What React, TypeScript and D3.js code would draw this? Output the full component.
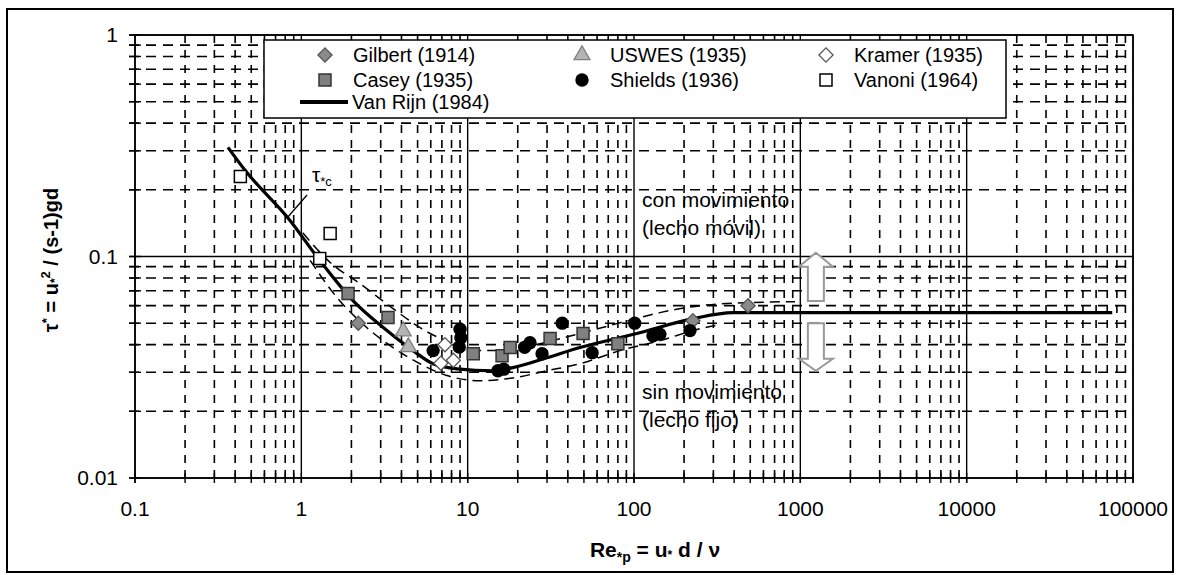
import React from "react";
import * as d3 from "d3";

// Van Rijn (1984) threshold curve
const vanRijnRe = [0.362, 0.459, 0.855, 1.29, 2.05, 3.27, 4.69, 6.19, 8.63, 14.2, 18.7, 30, 47.3, 104, 226, 394, 75000];
const vanRijnTau = [0.311, 0.245, 0.1455, 0.096, 0.063, 0.0463, 0.0376, 0.0328, 0.0311, 0.0305, 0.0315, 0.0349, 0.0388, 0.0449, 0.0524, 0.0558, 0.0558];

// dashed scatter band
const upperRe = [1.02, 1.49, 2.25, 3.56, 5.17, 7.3, 10.3, 15.6, 27.2, 47.3, 82.4, 143, 250, 478, 929];
const upperTau = [0.128, 0.094, 0.0755, 0.0582, 0.0477, 0.0417, 0.0376, 0.0376, 0.0404, 0.0449, 0.0502, 0.0558, 0.06, 0.0619, 0.0625];
const lowerRe = [1.13, 1.64, 2.48, 3.56, 5.17, 7.5, 11.9, 18.7, 30, 47.3, 82.4, 143, 250, 329];
const lowerTau = [0.096, 0.0652, 0.0477, 0.0388, 0.0328, 0.029, 0.0275, 0.0283, 0.0305, 0.0328, 0.0376, 0.0417, 0.0472, 0.0492];

// experimental data
const gilbertRe = [2.2, 226, 485];
const gilbertTau = [0.05, 0.0513, 0.06];
const uswesRe = [4.1, 4.4];
const uswesTau = [0.046, 0.039];
const kramerRe = [7.3, 6.9, 8.2];
const kramerTau = [0.04, 0.033, 0.034];
const caseyRe = [1.91, 3.32, 10.8, 16.1, 18, 31.3, 49.4, 80];
const caseyTau = [0.068, 0.053, 0.0364, 0.0356, 0.0388, 0.0426, 0.0449, 0.0404];
const shieldsRe = [6.2, 8.9, 9.0, 9.1, 15.2, 16.5, 22, 23.7, 28, 37, 56, 101, 130, 143, 217];
const shieldsTau = [0.0376, 0.039, 0.047, 0.043, 0.0305, 0.031, 0.0389, 0.0408, 0.0364, 0.05, 0.0368, 0.05, 0.0439, 0.0446, 0.0463];
const vanoniRe = [0.43, 1.49, 1.29];
const vanoniTau = [0.23, 0.127, 0.098];

// arrows (Re position, tau values: tail, head base, tip)
const arrowRe = 1240;
const arrowUpTau = [0.063, 0.09, 0.104];
const arrowDownTau = [0.05, 0.0345, 0.0305];

const W = 1179;
const H = 575;
const FONT = "'Liberation Sans', Arial, sans-serif";

const x = d3.scaleLog().domain([0.1, 100000]).range([135, 1133]);
const y = d3.scaleLog().domain([0.01, 1]).range([478, 35]);

const isMajor = (v: number) => Math.abs(Math.log10(v) - Math.round(Math.log10(v))) < 1e-9;
const zip = (a: number[], b: number[]) => a.map((v, i) => [v, b[i]] as [number, number]);

const line = d3
  .line<[number, number]>()
  .x((d) => x(d[0]))
  .y((d) => y(d[1]))
  .curve(d3.curveMonotoneX);

const sq = d3.symbol().type(d3.symbolSquare);
const tri = d3.symbol().type(d3.symbolTriangle).size(110)();
const circ = d3.symbol().type(d3.symbolCircle).size(140)();

type Style = { kind: string; fill: string; stroke: string };
const styles: Record<string, Style> = {
  gilbert: { kind: "diamond", fill: "#8a8a8a", stroke: "#555" },
  uswes: { kind: "triangle", fill: "#b4b4b4", stroke: "#808080" },
  kramer: { kind: "diamond", fill: "#fff", stroke: "#555" },
  casey: { kind: "square", fill: "#808080", stroke: "#333" },
  shields: { kind: "circle", fill: "#000", stroke: "#000" },
  vanoni: { kind: "square", fill: "#fff", stroke: "#000" },
};

function Marker({ cx, cy, s }: { cx: number; cy: number; s: Style }) {
  if (s.kind === "diamond")
    return (
      <path d={sq.size(100)()!} transform={`translate(${cx},${cy}) rotate(45)`} fill={s.fill} stroke={s.stroke} strokeWidth={1.3} />
    );
  if (s.kind === "square")
    return <path d={sq.size(144)()!} transform={`translate(${cx},${cy})`} fill={s.fill} stroke={s.stroke} strokeWidth={1.5} />;
  if (s.kind === "triangle")
    return <path d={tri!} transform={`translate(${cx},${cy})`} fill={s.fill} stroke={s.stroke} strokeWidth={1.3} />;
  return <path d={circ!} transform={`translate(${cx},${cy})`} fill={s.fill} />;
}

function arrowPath(cx: number, tail: number, base: number, tip: number) {
  const sw = 8;
  const hw = 17;
  return `M${cx - sw},${tail} L${cx - sw},${base} L${cx - hw},${base} L${cx},${tip} L${cx + hw},${base} L${cx + sw},${base} L${cx + sw},${tail} Z`;
}

export default function App() {
  const xTicks = x.ticks();
  const yTicks = y.ticks();
  const [x0, x1] = x.range();
  const [y0, y1] = y.range();

  const series: [string, number[], number[]][] = [
    ["gilbert", gilbertRe, gilbertTau],
    ["uswes", uswesRe, uswesTau],
    ["kramer", kramerRe, kramerTau],
    ["casey", caseyRe, caseyTau],
    ["shields", shieldsRe, shieldsTau],
    ["vanoni", vanoniRe, vanoniTau],
  ];

  const legendCols = [325, 582, 826];
  const legendRows = [55, 80, 102];
  const legend = [
    ["gilbert", "Gilbert (1914)", 0, 0],
    ["uswes", "USWES (1935)", 1, 0],
    ["kramer", "Kramer (1935)", 2, 0],
    ["casey", "Casey (1935)", 0, 1],
    ["shields", "Shields (1936)", 1, 1],
    ["vanoni", "Vanoni (1964)", 2, 1],
  ] as [string, string, number, number][];

  const ax = x(arrowRe);

  return (
    <div style={{ position: "fixed", left: 0, top: 0 }}>
      <svg width={W} height={H} style={{ display: "block", background: "#fff" }} fontFamily={FONT}>
        <rect x={7} y={9} width={1166} height={563} fill="#fff" stroke="#000" strokeWidth={2} />

        {/* grid */}
        {xTicks.map((v, i) => (
          <line
            key={"gx" + i}
            x1={x(v)}
            x2={x(v)}
            y1={y1}
            y2={y0 + 5}
            stroke="#000"
            strokeWidth={isMajor(v) ? 1.4 : 1.6}
            strokeDasharray={isMajor(v) ? undefined : "8,7"}
          />
        ))}
        {yTicks.map((v, i) => (
          <line
            key={"gy" + i}
            x1={x0 - 6}
            x2={x1}
            y1={y(v)}
            y2={y(v)}
            stroke="#000"
            strokeWidth={isMajor(v) ? 1.4 : 1.6}
            strokeDasharray={isMajor(v) ? undefined : "10,7"}
          />
        ))}
        {/* ticks across the axes */}
        {xTicks.map((v, i) => (
          <line key={"tx" + i} x1={x(v)} x2={x(v)} y1={y0 - 5} y2={y0 + 5} stroke="#000" strokeWidth={1.4} />
        ))}
        {yTicks.map((v, i) => (
          <line key={"ty" + i} x1={x0 - 6} x2={x0 + 6} y1={y(v)} y2={y(v)} stroke="#000" strokeWidth={1.4} />
        ))}
        <rect x={x0} y={y1} width={x1 - x0} height={y0 - y1} fill="none" stroke="#000" strokeWidth={1.6} />

        {/* tick labels */}
        {xTicks.filter(isMajor).map((v, i) => (
          <text key={"lx" + i} x={x(v)} y={516} textAnchor="middle" fontSize={21} fill="#000">
            {String(v)}
          </text>
        ))}
        {yTicks.filter(isMajor).map((v, i) => (
          <text key={"ly" + i} x={118} y={y(v)} dy="0.35em" textAnchor="end" fontSize={21} fill="#000">
            {String(v)}
          </text>
        ))}

        {/* axis titles */}
        <text x={655} y={557} textAnchor="middle" fontSize={21} fontWeight="bold" fill="#000">
          Re<tspan fontSize={14} dy={5}>*p</tspan>
          <tspan dy={-5}> = u</tspan>
          <tspan fontSize={12} dy={2}>*</tspan>
          <tspan dy={-2}> d / ν</tspan>
        </text>
        <text transform="translate(58,260) rotate(-90)" textAnchor="middle" fontSize={20} fontWeight="bold" fill="#000">
          τ<tspan fontSize={13} dy={-7}>*</tspan>
          <tspan dy={7}> = u</tspan>
          <tspan fontSize={12} dy={1}>*</tspan>
          <tspan fontSize={13} dy={-9}>2</tspan>
          <tspan dy={8}> / (s-1)gd</tspan>
        </text>

        {/* scatter band and curve */}
        <path d={line(zip(upperRe, upperTau))!} fill="none" stroke="#000" strokeWidth={1.5} strokeDasharray="10,6" />
        <path d={line(zip(lowerRe, lowerTau))!} fill="none" stroke="#000" strokeWidth={1.5} strokeDasharray="10,6" />
        <path d={line(zip(vanRijnRe, vanRijnTau))!} fill="none" stroke="#000" strokeWidth={3.2} />

        {/* data */}
        {series.map(([k, re, tau]) =>
          re.map((v, i) => <Marker key={k + i} cx={x(v)} cy={y(tau[i])} s={styles[k]} />)
        )}

        {/* tau*c label */}
        <line x1={307} y1={195} x2={287} y2={218} stroke="#000" strokeWidth={1.3} />
        <text x={312} y={182} fontSize={21} fill="#000">
          τ<tspan fontSize={13} dy={4}>*c</tspan>
        </text>

        {/* zone annotations */}
        <text x={642} y={200} dy="0.35em" fontSize={21} fill="#000">con movimiento</text>
        <text x={642} y={228} dy="0.35em" fontSize={21} fill="#000">(lecho móvil)</text>
        <text x={642} y={392} dy="0.35em" fontSize={21} fill="#000">sin movimiento</text>
        <text x={642} y={420} dy="0.35em" fontSize={21} fill="#000">(lecho fijo)</text>

        {/* arrows */}
        <path d={arrowPath(ax, y(arrowUpTau[0]), y(arrowUpTau[1]), y(arrowUpTau[2]))} fill="#fff" stroke="#999" strokeWidth={2} />
        <path d={arrowPath(ax, y(arrowDownTau[0]), y(arrowDownTau[1]), y(arrowDownTau[2]))} fill="#fff" stroke="#999" strokeWidth={2} />

        {/* legend */}
        <rect x={264} y={40} width={742} height={78} fill="#fff" stroke="#000" strokeWidth={1.5} />
        {legend.map(([k, label, c, r]) => (
          <g key={"lg" + k}>
            <Marker cx={legendCols[c]} cy={legendRows[r]} s={styles[k]} />
            <text x={legendCols[c] + 28} y={legendRows[r]} dy="0.35em" fontSize={20} fill="#000">
              {label}
            </text>
          </g>
        ))}
        <line x1={300} x2={348} y1={legendRows[2]} y2={legendRows[2]} stroke="#000" strokeWidth={4} />
        <text x={352} y={legendRows[2]} dy="0.35em" fontSize={20} fill="#000">
          Van Rijn (1984)
        </text>
      </svg>
    </div>
  );
}
